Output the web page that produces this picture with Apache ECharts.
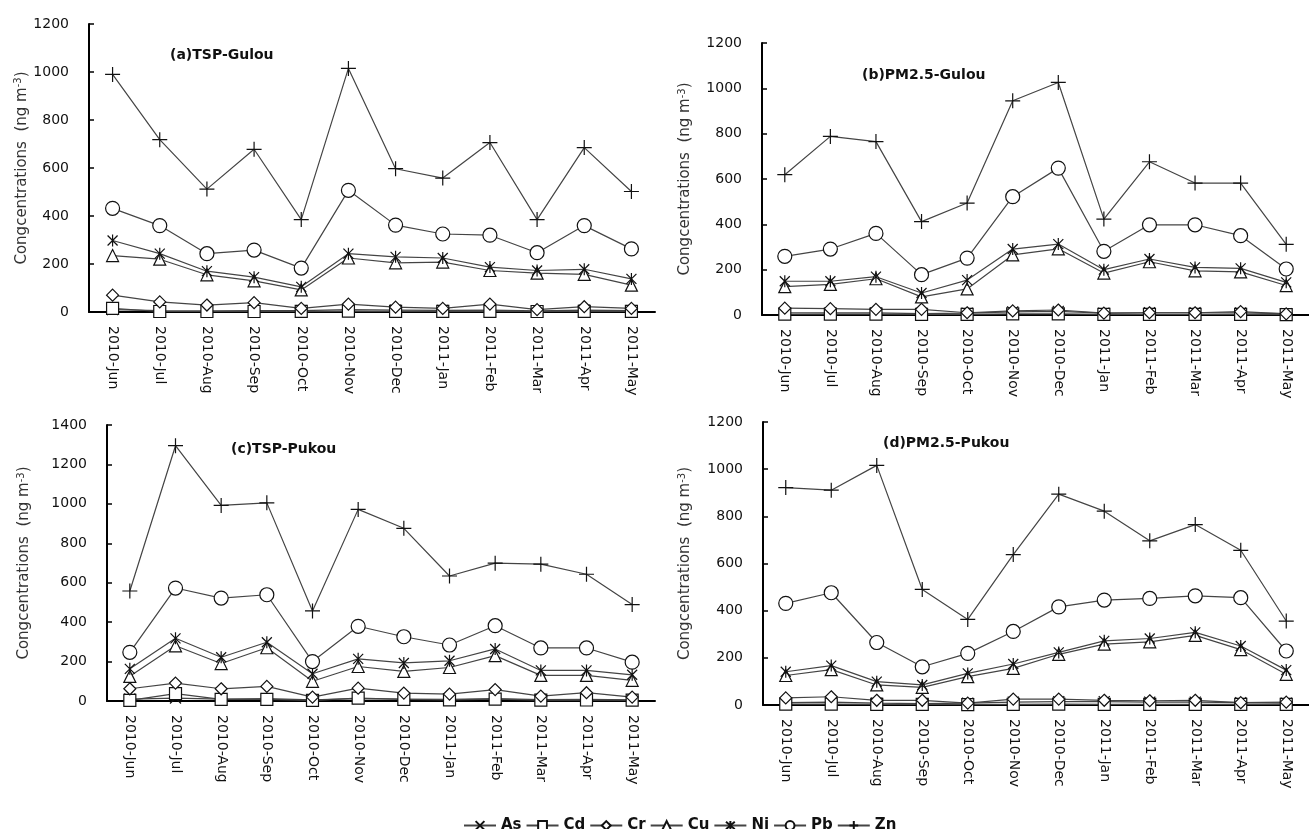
<!DOCTYPE html>
<html>
<head>
<meta charset="utf-8">
<script src="https://cdn.jsdelivr.net/npm/echarts@6/dist/echarts.min.js"></script>
<style>
  html, body { margin: 0; padding: 0; background: #fff; }
  #chart { width: 1309px; height: 829px; }
</style>
</head>
<body>
<div id="chart"></div>
<script>
// months (x axis)
var months = ['2010-Jun', '2010-Jul', '2010-Aug', '2010-Sep', '2010-Oct', '2010-Nov',
  '2010-Dec', '2011-Jan', '2011-Feb', '2011-Mar', '2011-Apr', '2011-May'];
var metals = ['As', 'Cd', 'Cr', 'Cu', 'Ni', 'Pb', 'Zn'];

// (a) TSP-Gulou
var aAs = [10, 6, 5, 6, 6, 10, 8, 7, 8, 5, 8, 6];
var aCd = [15, 2, 2, 2, 3, 4, 3, 3, 3, 2, 3, 3];
var aCr = [70, 42, 29, 39, 15, 33, 20, 15, 33, 10, 22, 15];
var aCu = [235, 220, 155, 130, 92, 225, 205, 208, 173, 162, 157, 112];
var aNi = [298, 243, 170, 145, 105, 243, 230, 225, 187, 173, 178, 138];
var aPb = [432, 360, 243, 258, 183, 507, 362, 325, 320, 247, 360, 263];
var aZn = [990, 718, 512, 678, 385, 1015, 597, 558, 706, 385, 685, 502];

// (b) PM2.5-Gulou
var bAs = [10, 9, 9, 6, 8, 14, 16, 8, 10, 10, 9, 6];
var bCd = [4, 4, 4, 3, 3, 5, 5, 3, 3, 3, 3, 2];
var bCr = [30, 28, 25, 25, 10, 18, 22, 8, 10, 10, 15, 5];
var bCu = [125, 135, 160, 80, 115, 265, 292, 185, 235, 195, 190, 130];
var bNi = [149, 149, 169, 97, 154, 291, 313, 200, 247, 210, 206, 144];
var bPb = [259, 291, 360, 178, 251, 522, 648, 281, 398, 398, 350, 203];
var bZn = [619, 788, 765, 412, 494, 945, 1026, 423, 676, 582, 582, 312];

// (c) TSP-Pukou
var cAs = [10, 15, 10, 12, 6, 12, 10, 9, 12, 7, 8, 6];
var cCd = [3, 37, 8, 8, 3, 15, 8, 6, 10, 4, 5, 4];
var cCr = [62, 91, 62, 74, 20, 65, 40, 35, 58, 25, 42, 20];
var cCu = [125, 280, 190, 270, 100, 175, 150, 170, 230, 130, 130, 105];
var cNi = [163, 318, 222, 298, 138, 214, 193, 204, 264, 155, 155, 133];
var cPb = [247, 573, 522, 539, 200, 379, 326, 284, 382, 269, 269, 197];
var cZn = [558, 1295, 992, 1005, 457, 972, 876, 634, 699, 694, 643, 489];

// (d) PM2.5-Pukou
var dAs = [10, 12, 8, 6, 8, 12, 14, 14, 12, 12, 10, 8];
var dCd = [4, 4, 3, 3, 2, 3, 4, 3, 3, 3, 3, 3];
var dCr = [30, 35, 20, 20, 8, 25, 25, 20, 18, 20, 10, 12];
var dCu = [125, 150, 85, 75, 120, 155, 215, 258, 268, 295, 235, 130];
var dNi = [141, 167, 99, 85, 134, 174, 223, 272, 282, 308, 250, 148];
var dPb = [431, 476, 265, 162, 219, 312, 416, 445, 452, 463, 455, 229];
var dZn = [922, 911, 1016, 490, 363, 638, 894, 822, 696, 765, 656, 356];

var panels = [
  { title: '(a)TSP-Gulou', max: 1200, data: [aAs, aCd, aCr, aCu, aNi, aPb, aZn] },
  { title: '(b)PM2.5-Gulou', max: 1200, data: [bAs, bCd, bCr, bCu, bNi, bPb, bZn] },
  { title: '(c)TSP-Pukou', max: 1400, data: [cAs, cCd, cCr, cCu, cNi, cPb, cZn] },
  { title: '(d)PM2.5-Pukou', max: 1200, data: [dAs, dCd, dCr, dCu, dNi, dPb, dZn] }
];

var FONT = "'DejaVu Sans', Verdana, sans-serif";

// marker per metal
var symbols = {
  As: 'path://M0,0L10,10M10,0L0,10',
  Cd: 'rect',
  Cr: 'diamond',
  Cu: 'triangle',
  Ni: 'path://M0,0L10,10M10,0L0,10M5,-1L5,11',
  Pb: 'circle',
  Zn: 'path://M6,0L6,12M0,6L12,6'
};
var symbolSizes = { As: 11, Cd: 12, Cr: 12, Cu: 12, Ni: 12, Pb: 14, Zn: 15 };

var grids = [
  { left: 89, top: 24, right: 654, bottom: 517 },
  { left: 762, top: 43, right: 0, bottom: 514 },
  { left: 107, top: 425, right: 654, bottom: 128 },
  { left: 763, top: 422, right: 0, bottom: 124 }
];
var titlePos = [[165, 43], [857, 63], [226, 437], [878, 431]];
var nameGaps = [58, 68, 74, 69];

var xAxes = [], yAxes = [], series = [], titles = [];
panels.forEach(function (p, i) {
  titles.push({
    text: p.title, left: titlePos[i][0], top: titlePos[i][1],
    textStyle: { fontFamily: FONT, fontSize: 14, fontWeight: 'bold', color: '#111' }
  });
  xAxes.push({
    type: 'category', gridIndex: i, data: months, boundaryGap: true,
    axisLine: { lineStyle: { color: '#000', width: 2 } },
    axisTick: { inside: true, length: 5, lineStyle: { color: '#000', width: 1.5 } },
    axisLabel: { rotate: -90, interval: 0, margin: 14, color: '#111', fontFamily: FONT, fontSize: 14 }
  });
  yAxes.push({
    type: 'value', gridIndex: i, min: 0, max: p.max, interval: 200,
    name: '{a|Congcentrations  (ng m}{s|-3}{a|)}',
    nameLocation: 'middle', nameGap: nameGaps[i],
    nameTextStyle: {
      rich: {
        a: { fontFamily: FONT, fontSize: 15, color: '#333' },
        s: { fontFamily: FONT, fontSize: 10, color: '#333', verticalAlign: 'top', padding: [0, 0, 7, 0] }
      }
    },
    splitLine: { show: false },
    axisLine: { show: true, lineStyle: { color: '#000', width: 2 } },
    axisTick: { show: true, inside: true, length: 5, lineStyle: { color: '#000', width: 1.5 } },
    axisLabel: {
      margin: 20, color: '#111', fontFamily: FONT, fontSize: 14,
      formatter: function (v) { return String(v); }
    }
  });
  metals.forEach(function (m, k) {
    series.push({
      name: m, type: 'line', xAxisIndex: i, yAxisIndex: i,
      data: p.data[k],
      symbol: symbols[m], symbolSize: symbolSizes[m], symbolKeepAspect: true,
      showAllSymbol: true,
      lineStyle: { color: '#444', width: 1.2 },
      itemStyle: { color: '#fff', borderColor: '#111', borderWidth: 1.2 },
      emphasis: { disabled: true },
      animation: false
    });
  });
});

var chart = echarts.init(document.getElementById('chart'));
chart.setOption({
  backgroundColor: '#fff',
  animation: false,
  title: titles,
  grid: grids,
  xAxis: xAxes,
  yAxis: yAxes,
  legend: {
    data: metals, top: 813, left: 458, itemWidth: 32, itemHeight: 11, itemGap: 4,
    textStyle: { fontFamily: FONT, fontSize: 15, fontWeight: 'bold', color: '#111' }
  },
  series: series
});
</script>
</body>
</html>
